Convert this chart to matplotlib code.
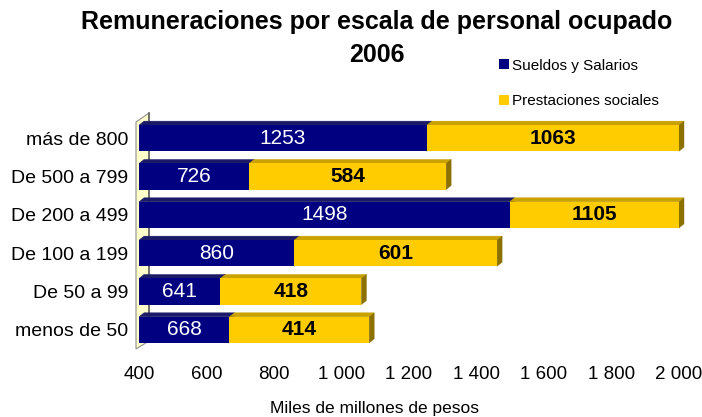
import matplotlib
matplotlib.use("Agg")
import matplotlib.pyplot as plt
from matplotlib.patches import Polygon
from matplotlib.transforms import IdentityTransform

categorias = ["menos de 50", "De 50 a 99", "De 100 a 199", "De 200 a 499", "De 500 a 799", "más de 800"]
sueldos = [668, 641, 860, 1498, 726, 1253]
prestaciones = [414, 418, 601, 1105, 584, 1063]
ticks = [400, 600, 800, 1000, 1200, 1400, 1600, 1800, 2000]

W, H = 702, 417
NAVY, GOLD = "#000080", "#FFCC00"
NAVY_TOP, NAVY_SIDE = "#1a1a66", "#000050"
GOLD_TOP, GOLD_SIDE = "#C9A200", "#8C7000"
DX, DY = 5, 4  # profundidad 3D en pixeles
ALTO = 0.68

plt.rcParams["font.family"] = ["Liberation Sans", "DejaVu Sans"]

fig = plt.figure(figsize=(W / 100, H / 100), dpi=100)
ax = fig.add_axes([139 / W, 1 - 349 / H, (679 - 139) / W, 230 / H])
ax.set_xlim(400, 2000)
ax.set_ylim(-0.5, 5.5)
for s in ax.spines.values():
    s.set_visible(False)

ax.set_xticks(ticks)
ax.set_xticklabels([f"{t:,}".replace(",", " ") for t in ticks], fontsize=13.5)
ax.set_yticks(range(len(categorias)))
ax.set_yticklabels(categorias, fontsize=14)
ax.tick_params(axis="x", length=0, pad=12)
ax.tick_params(axis="y", length=0, pad=8)
fig.text(375 / W, 1 - 408 / H, "Miles de millones de pesos", fontsize=12.5,
         ha="center", va="center")

# pared izquierda (efecto 3D)
bb = ax.get_window_extent()
x0p, y0p, y1p = bb.x0 - 3, bb.y0, bb.y1 - 3
wall = Polygon([(x0p, y0p), (x0p, y1p), (x0p + 13, y1p + 9), (x0p + 13, y0p + 8)],
               closed=True, transform=IdentityTransform(), facecolor="#FFFFCC",
               edgecolor="#909090", lw=0.8, zorder=0.5, clip_on=False)
ax.add_patch(wall)
ax.plot([x0p + 13, x0p + 13], [y0p + 8, y1p + 9], color="#606060", lw=1.2,
        transform=IdentityTransform(), clip_on=False, zorder=0.6)


def caras(x0, x1, y, top, side):
    xmin, xmax = ax.get_xlim()
    x0, x1 = max(x0, xmin), min(x1, xmax)
    (X0, Y0) = ax.transData.transform((x0, y - ALTO / 2))
    (X1, Y1) = ax.transData.transform((x1, y + ALTO / 2))
    for pts, col in (
        ([(X0, Y1), (X1, Y1), (X1 + DX, Y1 + DY), (X0 + DX, Y1 + DY)], top),
        ([(X1, Y0), (X1 + DX, Y0 + DY), (X1 + DX, Y1 + DY), (X1, Y1)], side),
    ):
        ax.add_patch(Polygon(pts, closed=True, transform=IdentityTransform(),
                             facecolor=col, edgecolor=col, lw=0.3, zorder=2, clip_on=False))


for i, (a, b) in enumerate(zip(sueldos, prestaciones)):
    caras(0, a, i, NAVY_TOP, NAVY_SIDE)
    caras(a, a + b, i, GOLD_TOP, GOLD_SIDE)

b1 = ax.barh(range(len(categorias)), sueldos, height=ALTO, color=NAVY, zorder=3,
             label="Sueldos y Salarios")
b2 = ax.barh(range(len(categorias)), prestaciones, left=sueldos, height=ALTO, color=GOLD,
             zorder=3, label="Prestaciones sociales")

for i, (a, b) in enumerate(zip(sueldos, prestaciones)):
    ax.text((400 + a) / 2, i, str(a), color="white", fontsize=15, ha="center", va="center", zorder=4)
    ax.text((a + min(a + b, 2000)) / 2, i, str(b), color="black", fontsize=15, fontweight="bold",
            ha="center", va="center", zorder=4)

fig.text(377 / W, 1 - 22 / H, "Remuneraciones por escala de personal ocupado",
         ha="center", va="center", fontsize=18, fontweight="bold")
fig.text(377 / W, 1 - 55 / H, "2006", ha="center", va="center", fontsize=18, fontweight="bold")

fig.legend(handles=[b1, b2], loc="upper left", bbox_to_anchor=(491 / W, 1 - 51 / H),
           frameon=False, fontsize=11, handlelength=0.65, handleheight=0.65,
           handletextpad=0.2, labelspacing=1.4, borderpad=0)

fig.savefig("out.png", dpi=100)
